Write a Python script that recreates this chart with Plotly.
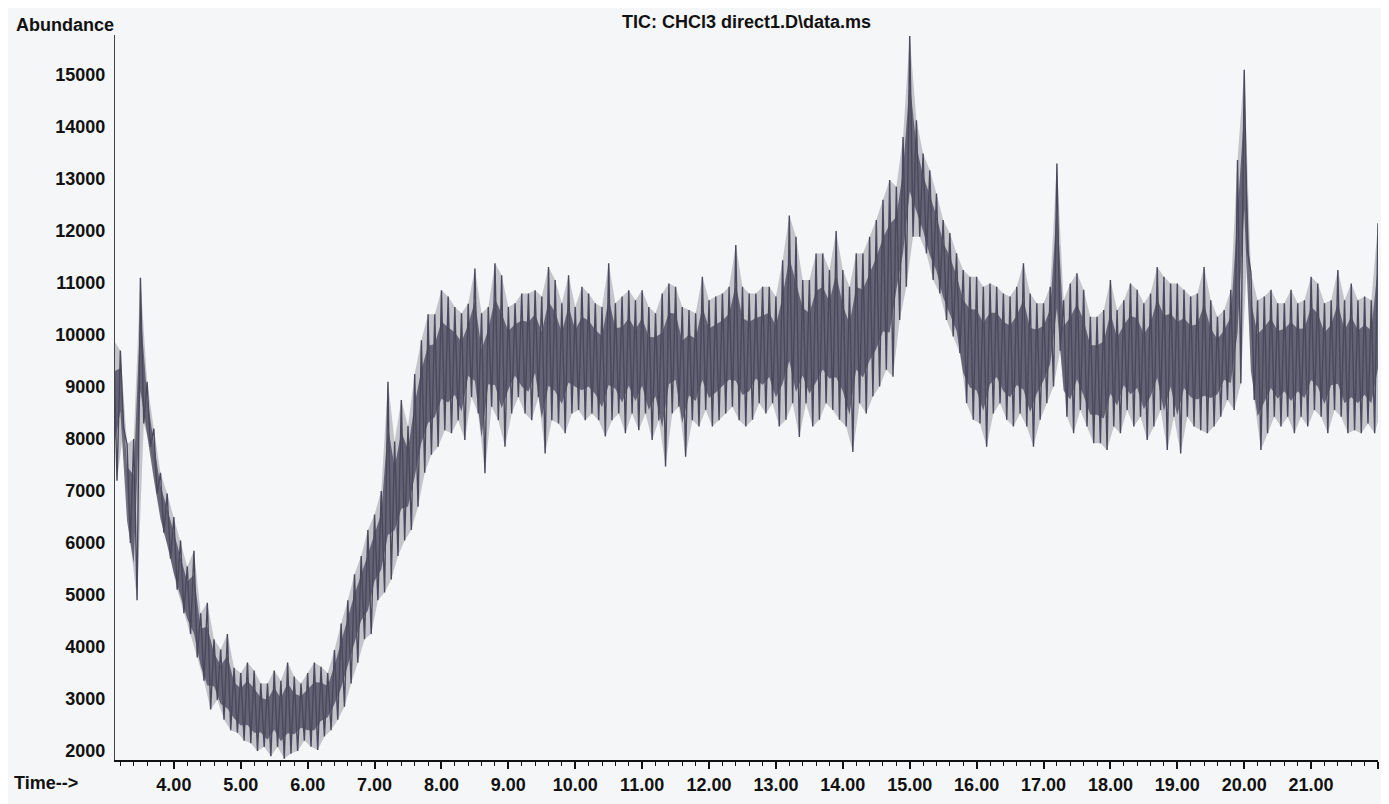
import plotly.graph_objects as go

# Retention time (min) sampling points
times = [3.1, 3.2, 3.3, 3.4, 3.5, 3.6, 3.7, 3.8, 3.9,
         4.0, 4.1, 4.2, 4.3, 4.4, 4.5, 4.6, 4.7, 4.8, 4.9,
         5.0, 5.1, 5.2, 5.3, 5.4, 5.5, 5.6, 5.7, 5.8, 5.9,
         6.0, 6.1, 6.2, 6.3, 6.4, 6.5, 6.6, 6.7, 6.8, 6.9,
         7.0, 7.1, 7.2, 7.3, 7.4, 7.5, 7.6, 7.7, 7.8, 7.9,
         8.0, 8.1, 8.2, 8.3, 8.4, 8.5, 8.6, 8.7, 8.8, 8.9,
         9.0, 9.1, 9.2, 9.3, 9.4, 9.5, 9.6, 9.7, 9.8, 9.9,
         10.0, 10.1, 10.2, 10.3, 10.4, 10.5, 10.6, 10.7, 10.8, 10.9,
         11.0, 11.1, 11.2, 11.3, 11.4, 11.5, 11.6, 11.7, 11.8, 11.9,
         12.0, 12.1, 12.2, 12.3, 12.4, 12.5, 12.6, 12.7, 12.8, 12.9,
         13.0, 13.1, 13.2, 13.3, 13.4, 13.5, 13.6, 13.7, 13.8, 13.9,
         14.0, 14.1, 14.2, 14.3, 14.4, 14.5, 14.6, 14.7, 14.8, 14.9,
         15.0, 15.1, 15.2, 15.3, 15.4, 15.5, 15.6, 15.7, 15.8, 15.9,
         16.0, 16.1, 16.2, 16.3, 16.4, 16.5, 16.6, 16.7, 16.8, 16.9,
         17.0, 17.1, 17.2, 17.3, 17.4, 17.5, 17.6, 17.7, 17.8, 17.9,
         18.0, 18.1, 18.2, 18.3, 18.4, 18.5, 18.6, 18.7, 18.8, 18.9,
         19.0, 19.1, 19.2, 19.3, 19.4, 19.5, 19.6, 19.7, 19.8, 19.9,
         20.0, 20.1, 20.2, 20.3, 20.4, 20.5, 20.6, 20.7, 20.8, 20.9,
         21.0, 21.1, 21.2, 21.3, 21.4, 21.5, 21.6, 21.7, 21.8, 21.9,
         22.0]

# Local maxima of the noisy TIC trace (abundance)
upper = [9900, 9700, 7900, 8000, 11100, 9100, 8200, 7350, 6950,
         6500, 6050, 5550, 5850, 4650, 4850, 4150, 3950, 4250, 3600,
         3500, 3700, 3550, 3300, 3300, 3550, 3350, 3700, 3430, 3300,
         3500, 3700, 3620, 3500, 3940, 4450, 4900, 5400, 5750, 6250,
         6550, 7000, 9100, 7950, 8750, 8250, 9250, 9900, 10400, 10400,
         10860, 10740, 10540, 10420, 10600, 11280, 10420, 10540, 11380, 11150,
         10540, 10610, 10800, 10800, 10860, 10740, 11310, 11060, 10610, 11150,
         10540, 10930, 10800, 10610, 10540, 11380, 10610, 10740, 10860, 10670,
         10860, 10540, 10420, 10800, 10990, 10930, 10540, 10480, 10420, 11120,
         10670, 10740, 10800, 10930, 11730, 10930, 10800, 10800, 10930, 10930,
         10740, 11440, 12300, 11890, 11060, 11060, 11570, 11570, 11250, 12000,
         11250, 10930, 11570, 11570, 11890, 12210, 12600, 12980, 12850, 13810,
         15750, 14130, 13490, 13170, 12720, 12210, 11960, 11570, 11250, 11120,
         11120, 10930, 10990, 10930, 10800, 10740, 10930, 11380, 10800, 10610,
         10610, 10930, 13300, 10670, 10990, 11190, 10870, 10350, 10350, 10480,
         11060, 10480, 10670, 10990, 10870, 10610, 10800, 11310, 11120, 10990,
         10990, 10870, 10740, 10800, 11310, 10670, 10350, 10480, 10870, 13365,
         15100, 11200, 10670, 10740, 10870, 10610, 10610, 10870, 10610, 10670,
         11120, 10990, 10610, 10670, 11250, 10670, 10990, 10670, 10740, 10670,
         12150]

# Local minima of the noisy TIC trace (abundance)
lower = [7200, 8200, 6000, 4900, 8300, 7850, 6950, 6200, 5700,
         5100, 4650, 4250, 3800, 3350, 2800, 2980, 2600, 2400, 2350,
         2200, 2150, 2000, 2080, 1900, 2080, 1850, 1950, 2000, 2200,
         2080, 2020, 2280, 2400, 2600, 2850, 3300, 3700, 4150, 4250,
         4900, 5050, 5300, 5750, 6050, 6250, 6700, 7350, 7700, 7850,
         8170, 8110, 8360, 7980, 8810, 8490, 7340, 8620, 8360, 7850,
         8490, 8810, 8490, 8360, 8810, 7720, 8360, 8300, 8110, 8490,
         8560, 8360, 8490, 8360, 8050, 8360, 8490, 8110, 8490, 8170,
         8490, 7980, 8360, 7470, 8490, 8620, 7660, 8360, 8240, 8560,
         8240, 8360, 8490, 8620, 8360, 8240, 8370, 8690, 8490, 8690,
         8240, 8370, 8690, 8040, 8690, 8240, 8370, 8690, 8560, 8370,
         8240, 7750, 8690, 8490, 8820, 9010, 9330, 9200, 10290, 10930,
         11890, 11890, 11570, 11060, 10800, 10290, 9970, 9650, 8690, 8370,
         8300, 7850, 8490, 8690, 8370, 8240, 8490, 8240, 7850, 8370,
         8690, 9010, 9700, 8430, 8110, 8560, 8240, 7920, 7920, 7790,
         8240, 8110, 8560, 8240, 8430, 7980, 8240, 8560, 7790, 8430,
         7720, 8430, 8240, 8170, 8110, 8240, 8430, 8750, 8560, 9070,
         11630, 8750, 7790, 8110, 8430, 8240, 8430, 8110, 8430, 8240,
         8560, 8430, 8110, 8560, 8430, 8110, 8170, 8110, 8300, 8110,
         8560]

x_tick_vals = [4, 5, 6, 7, 8, 9, 10, 11, 12, 13, 14, 15, 16, 17, 18, 19, 20, 21, 22]
x_tick_text = ["4.00", "5.00", "6.00", "7.00", "8.00", "9.00", "10.00", "11.00",
               "12.00", "13.00", "14.00", "15.00", "16.00", "17.00", "18.00",
               "19.00", "20.00", "21.00", ""]
y_tick_vals = [2000, 3000, 4000, 5000, 6000, 7000, 8000, 9000, 10000,
               11000, 12000, 13000, 14000, 15000]
y_tick_text = [str(v) for v in y_tick_vals]

# Sample positions: local max at t, local min half a step later
x_up = list(times)
x_lo = [t + 0.05 for t in times]

# Zig-zag trace through max/min samples
xs, ys = [], []
for a, u, b, lo in zip(x_up, upper, x_lo, lower):
    xs += [a, b]
    ys += [u, lo]

# Dense core of the noise band (middle part of each max/min span)
mid = [(u + lo) / 2 for u, lo in zip(upper, lower)]
half = [(u - lo) / 2 for u, lo in zip(upper, lower)]
core_hi = [m + 0.55 * h for m, h in zip(mid, half)]
core_lo = [m - 0.55 * h for m, h in zip(mid, half)]

FONT = "Liberation Sans, Arial, Helvetica, sans-serif"
BG = "#f5f6f7"
INK = "#4a485c"

fig = go.Figure()
# outer envelope (lighter)
fig.add_trace(go.Scatter(
    x=x_up + x_lo[::-1], y=upper + lower[::-1], mode="lines",
    fill="toself", fillcolor="rgba(92,90,112,0.32)",
    line=dict(width=0), showlegend=False, hoverinfo="skip",
))
# dense core (darker)
fig.add_trace(go.Scatter(
    x=x_up + x_up[::-1], y=core_hi + core_lo[::-1], mode="lines",
    fill="toself", fillcolor="rgba(70,68,88,0.75)",
    line=dict(width=0), showlegend=False, hoverinfo="skip",
))
# spiky trace
fig.add_trace(go.Scatter(
    x=xs, y=ys, mode="lines",
    line=dict(color=INK, width=1.4),
    showlegend=False, hoverinfo="skip",
))

# page body adds an 8px offset, so margins are compensated
fig.update_layout(
    width=1389, height=804,
    margin=dict(l=107, r=19, t=27, b=52),
    paper_bgcolor=BG, plot_bgcolor=BG,
    font=dict(family=FONT, size=18, color="#111111"),
    xaxis=dict(
        range=[3.12, 22.0],
        showgrid=False, zeroline=False,
        showline=True, linecolor="#111111", linewidth=1.6,
        ticks="outside", ticklen=7, tickwidth=1.5, tickcolor="#111111",
        tickvals=x_tick_vals, ticktext=x_tick_text,
        tickfont=dict(family=FONT, size=18, color="#111111", weight="bold"),
        ticklabelstandoff=1,
        minor=dict(dtick=0.2, tick0=0, ticks="outside", ticklen=4,
                   tickwidth=1.3, tickcolor="#111111", showgrid=False),
    ),
    yaxis=dict(
        range=[1827, 15770],
        showgrid=False, zeroline=False,
        showline=True, linecolor="#444444", linewidth=1.2,
        ticks="", tickvals=y_tick_vals, ticktext=y_tick_text,
        tickfont=dict(family=FONT, size=18, color="#111111", weight="bold"),
        ticklabelstandoff=5,
    ),
    annotations=[
        dict(text="Abundance", xref="paper", yref="paper", x=0, y=1.014,
             xanchor="right", yanchor="middle", showarrow=False, xshift=1,
             font=dict(family=FONT, size=18, color="#111111", weight="bold")),
        dict(text="TIC: CHCl3 direct1.D\\data.ms", xref="paper", yref="paper",
             x=0.4, y=1.018, xanchor="left", yanchor="middle", showarrow=False,
             font=dict(family=FONT, size=18, color="#111111", weight="bold")),
        dict(text="Time-->", xref="paper", yref="paper", x=-0.0816, y=-0.0317,
             xanchor="left", yanchor="middle", showarrow=False,
             font=dict(family=FONT, size=18, color="#111111", weight="bold")),
    ],
)

fig.write_html("out.html")
